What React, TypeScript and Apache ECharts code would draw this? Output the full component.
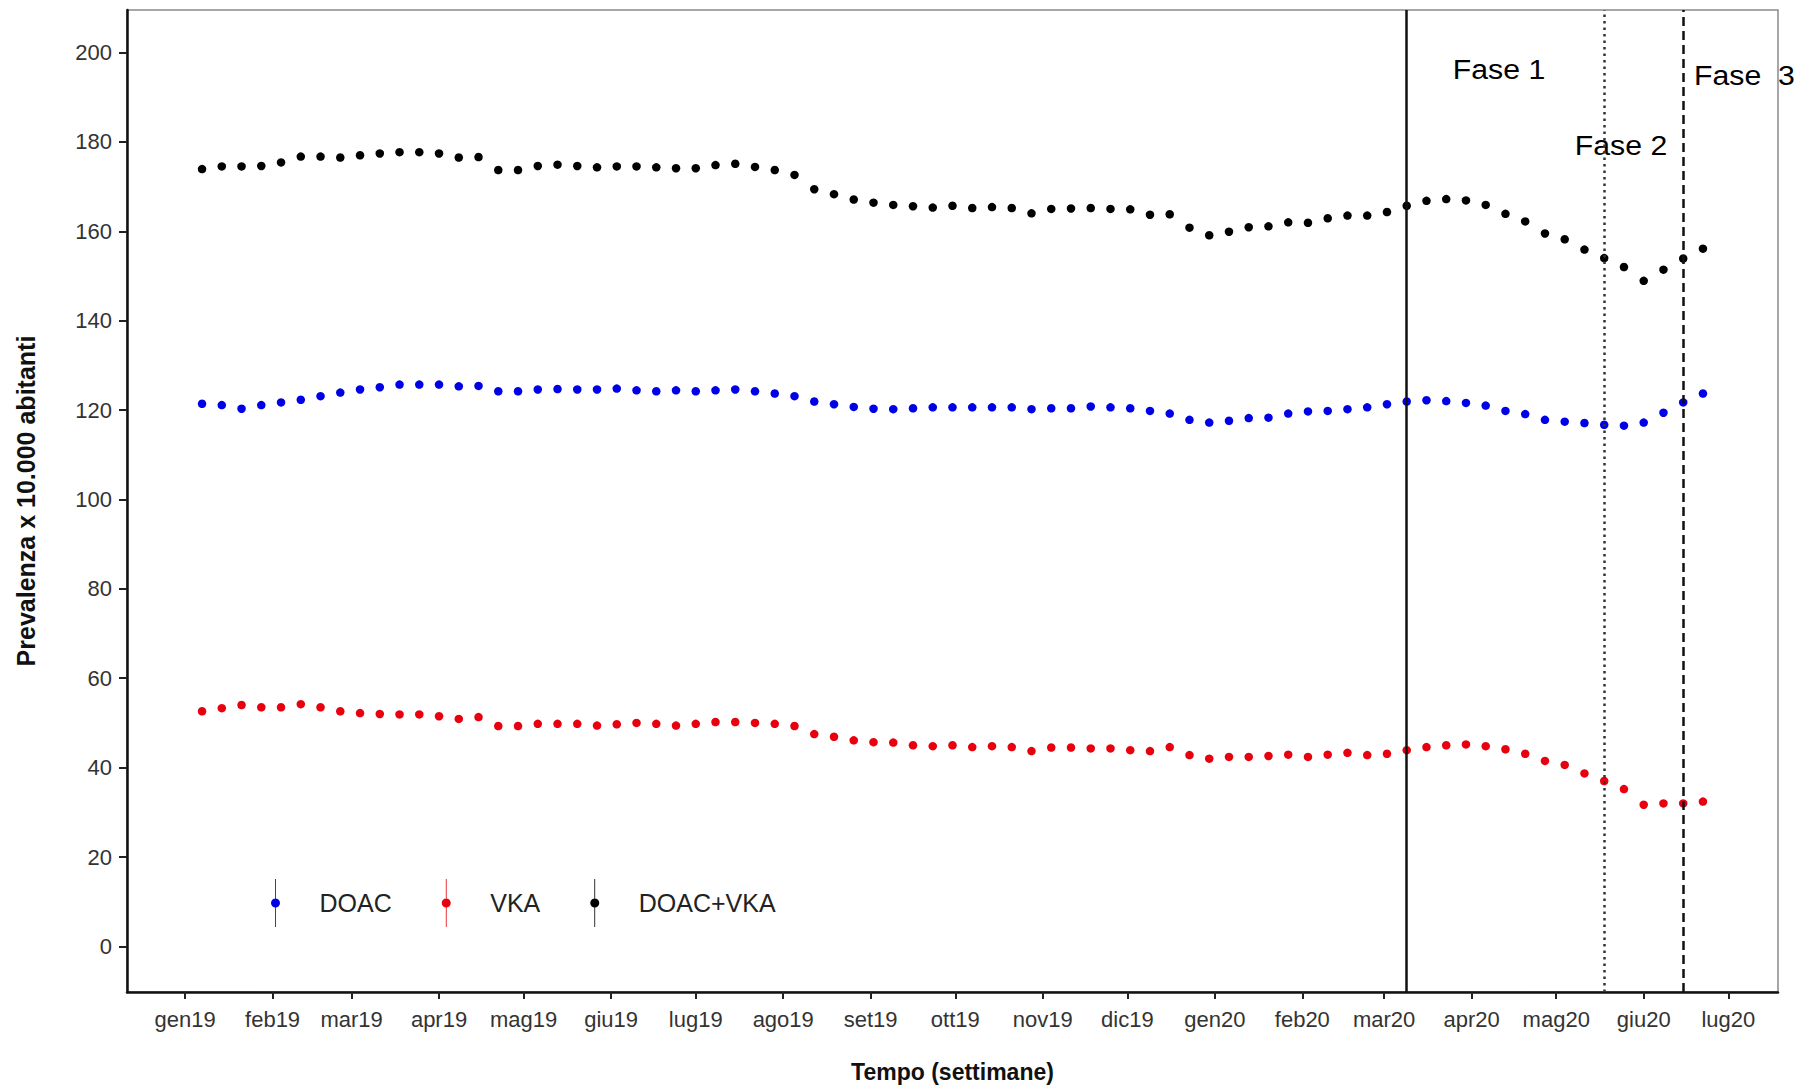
import React, { useEffect, useRef } from "react";
import * as echarts from "echarts";

const FONT = "'Liberation Sans', Arial, Helvetica, sans-serif";
const DAY = 86400000;

// Weekly observations (Mondays), starting 7 Jan 2019
const firstWeek = Date.UTC(2019, 0, 7);
const weekCount = 77;
const weeks: number[] = Array.from({ length: weekCount }, (_, i) => firstWeek + i * 7 * DAY);

// Month ticks on the x axis
const tickMonths: [number, number][] = [
  [2019, 0], [2019, 1], [2019, 2], [2019, 3], [2019, 4], [2019, 5], [2019, 6], [2019, 7],
  [2019, 8], [2019, 9], [2019, 10], [2019, 11], [2020, 0], [2020, 1], [2020, 2], [2020, 3],
  [2020, 4], [2020, 5], [2020, 6],
];
const monthLabels = [
  "gen19", "feb19", "mar19", "apr19", "mag19", "giu19", "lug19", "ago19", "set19", "ott19",
  "nov19", "dic19", "gen20", "feb20", "mar20", "apr20", "mag20", "giu20", "lug20",
];
const monthTicks = tickMonths.map(([y, m]) => Date.UTC(y, m, 1));

const yTicks = [0, 20, 40, 60, 80, 100, 120, 140, 160, 180, 200];

// Phase boundaries
const phaseDates = [Date.UTC(2020, 2, 9), Date.UTC(2020, 4, 18), Date.UTC(2020, 5, 15)];

const doac = [
  121.4, 121.1, 120.3, 121.1, 121.7, 122.3, 123.1, 123.9, 124.6, 125.1,
  125.7, 125.7, 125.7, 125.3, 125.4, 124.2, 124.2, 124.6, 124.7, 124.6,
  124.6, 124.8, 124.4, 124.2, 124.4, 124.2, 124.4, 124.6, 124.2, 123.7,
  123.1, 121.9, 121.3, 120.7, 120.3, 120.2, 120.4, 120.6, 120.6, 120.6,
  120.6, 120.6, 120.2, 120.4, 120.4, 120.8, 120.6, 120.4, 119.8, 119.2,
  117.8, 117.2, 117.6, 118.2, 118.3, 119.2, 119.7, 119.8, 120.2, 120.6,
  121.3, 121.9, 122.2, 122.0, 121.6, 121.0, 119.8, 119.1, 117.8, 117.4,
  117.1, 116.7, 116.5, 117.2, 119.4, 121.7, 123.7,
];

const vka = [
  52.6, 53.3, 54.0, 53.5, 53.5, 54.2, 53.5, 52.6, 52.2, 52.0,
  51.9, 51.9, 51.5, 50.9, 51.3, 49.3, 49.3, 49.8, 49.8, 49.8,
  49.4, 49.7, 50.0, 49.8, 49.4, 49.8, 50.2, 50.2, 50.0, 49.8,
  49.3, 47.5, 46.9, 46.1, 45.7, 45.6, 45.0, 44.8, 45.0, 44.6,
  44.8, 44.6, 43.7, 44.5, 44.5, 44.3, 44.3, 43.9, 43.7, 44.6,
  42.8, 42.0, 42.4, 42.4, 42.6, 42.9, 42.4, 42.9, 43.3, 42.8,
  43.1, 43.9, 44.6, 45.0, 45.2, 44.8, 44.1, 43.1, 41.5, 40.6,
  38.7, 37.0, 35.2, 31.7, 32.0, 32.0, 32.4,
];

const doacVka = [
  173.9, 174.5, 174.5, 174.6, 175.4, 176.7, 176.7, 176.5, 177.0, 177.4,
  177.7, 177.7, 177.4, 176.5, 176.6, 173.7, 173.7, 174.6, 174.9, 174.6,
  174.3, 174.5, 174.5, 174.3, 174.1, 174.1, 174.8, 175.1, 174.4, 173.7,
  172.6, 169.4, 168.3, 167.1, 166.4, 165.9, 165.6, 165.3, 165.7, 165.2,
  165.4, 165.2, 164.0, 165.0, 165.1, 165.2, 165.0, 164.9, 163.7, 163.8,
  160.8, 159.1, 159.9, 160.9, 161.1, 162.0, 161.9, 162.9, 163.5, 163.5,
  164.3, 165.7, 166.8, 167.2, 166.9, 165.9, 163.9, 162.2, 159.5, 158.2,
  155.9, 154.0, 152.0, 148.9, 151.4, 153.9, 156.1,
];

const seriesNames = ["DOAC", "VKA", "DOAC+VKA"];
const seriesColors = ["#0000e6", "#e8000f", "#000000"];
const seriesValues = [doac, vka, doacVka];

const phaseLabels = ["Fase 1", "Fase 2", "Fase  3"];

const xMin = Date.UTC(2019, 0, 1) - 20.6 * DAY;
const xMax = Date.UTC(2019, 0, 1) + 564.6 * DAY;

const LEGEND_ICON =
  "path://M5,19.5A4.5,4.5,0,1,1,5,28.5A4.5,4.5,0,1,1,5,19.5ZM4.6,0L5.4,0L5.4,48L4.6,48Z";

function buildOption() {
  const series = seriesNames.map((name, si) => ({
    name,
    type: "scatter",
    symbol: "circle",
    symbolSize: 8.5,
    itemStyle: { color: seriesColors[si], opacity: 1 },
    emphasis: { disabled: true },
    data: weeks.map((t, i) => [t, seriesValues[si][i]]),
    z: 3,
  }));

  (series[2] as any).markLine = {
    silent: true,
    symbol: ["none", "none"],
    label: { show: false },
    emphasis: { disabled: true },
    data: [
      { xAxis: phaseDates[0], lineStyle: { type: "solid", color: "#111", width: 2.5 } },
      { xAxis: phaseDates[1], lineStyle: { type: [2.5, 4], color: "#333", width: 2.5 } },
      { xAxis: phaseDates[2], lineStyle: { type: [9, 5], color: "#111", width: 2.5 } },
    ],
  };

  return {
    animation: false,
    backgroundColor: "#ffffff",
    grid: {
      left: 127,
      right: 26,
      top: 10,
      bottom: 89.5,
      show: true,
      borderColor: "#8a8a8a",
      borderWidth: 1.5,
      backgroundColor: "#ffffff",
    },
    legend: {
      data: seriesNames,
      left: 266,
      top: 874,
      orient: "horizontal",
      itemWidth: 10,
      itemHeight: 48,
      itemGap: 50,
      icon: LEGEND_ICON,
      selectedMode: false,
      itemStyle: { opacity: 1 },
      textStyle: { fontFamily: FONT, fontSize: 25, color: "#222", padding: [0, 0, 0, 34] },
    },
    xAxis: {
      type: "value",
      min: xMin,
      max: xMax,
      name: "Tempo (settimane)",
      nameLocation: "middle",
      nameGap: 68,
      nameTextStyle: { fontFamily: FONT, fontSize: 23, fontWeight: "bold", color: "#111" },
      axisLine: { show: true, onZero: false, lineStyle: { color: "#111", width: 2.5 } },
      axisTick: {
        show: true,
        customValues: monthTicks,
        length: 7,
        lineStyle: { color: "#222", width: 2 },
      },
      axisLabel: {
        customValues: monthTicks,
        formatter: (v: number) => {
          const idx = monthTicks.indexOf(v);
          return idx >= 0 ? monthLabels[idx] : "";
        },
        margin: 16,
        fontFamily: FONT,
        fontSize: 22,
        color: "#333",
      },
      splitLine: { show: false },
    },
    yAxis: {
      type: "value",
      min: -10.2,
      max: 209.5,
      name: "Prevalenza x 10.000 abitanti",
      nameLocation: "middle",
      nameGap: 89,
      nameTextStyle: { fontFamily: FONT, fontSize: 25, fontWeight: "bold", color: "#111" },
      axisLine: { show: true, onZero: false, lineStyle: { color: "#111", width: 2.5 } },
      axisTick: {
        show: true,
        customValues: yTicks,
        length: 8,
        lineStyle: { color: "#222", width: 2 },
      },
      axisLabel: {
        customValues: yTicks,
        margin: 15,
        fontFamily: FONT,
        fontSize: 22,
        color: "#333",
      },
      splitLine: { show: false },
    },
    graphic: [
      {
        type: "text",
        x: 1499,
        y: 70,
        scaleX: 1.12,
        style: {
          text: phaseLabels[0],
          fontFamily: FONT,
          fontSize: 27,
          fill: "#000",
          align: "center",
          verticalAlign: "middle",
        },
      },
      {
        type: "text",
        x: 1621,
        y: 146,
        scaleX: 1.12,
        style: {
          text: phaseLabels[1],
          fontFamily: FONT,
          fontSize: 27,
          fill: "#000",
          align: "center",
          verticalAlign: "middle",
        },
      },
      {
        type: "text",
        x: 1694,
        y: 76,
        scaleX: 1.12,
        style: {
          text: phaseLabels[2],
          fontFamily: FONT,
          fontSize: 27,
          fill: "#000",
          align: "left",
          verticalAlign: "middle",
        },
      },
    ],
    series,
  };
}

export default function App() {
  const ref = useRef<HTMLDivElement>(null);
  useEffect(() => {
    document.body.style.margin = "0";
    const chart = echarts.init(ref.current!, null, { renderer: "svg" });
    chart.setOption(buildOption() as any);
    return () => chart.dispose();
  }, []);
  return (
    <div
      ref={ref}
      style={{ position: "fixed", left: 0, top: 0, width: 1804, height: 1088, background: "#fff" }}
    />
  );
}
